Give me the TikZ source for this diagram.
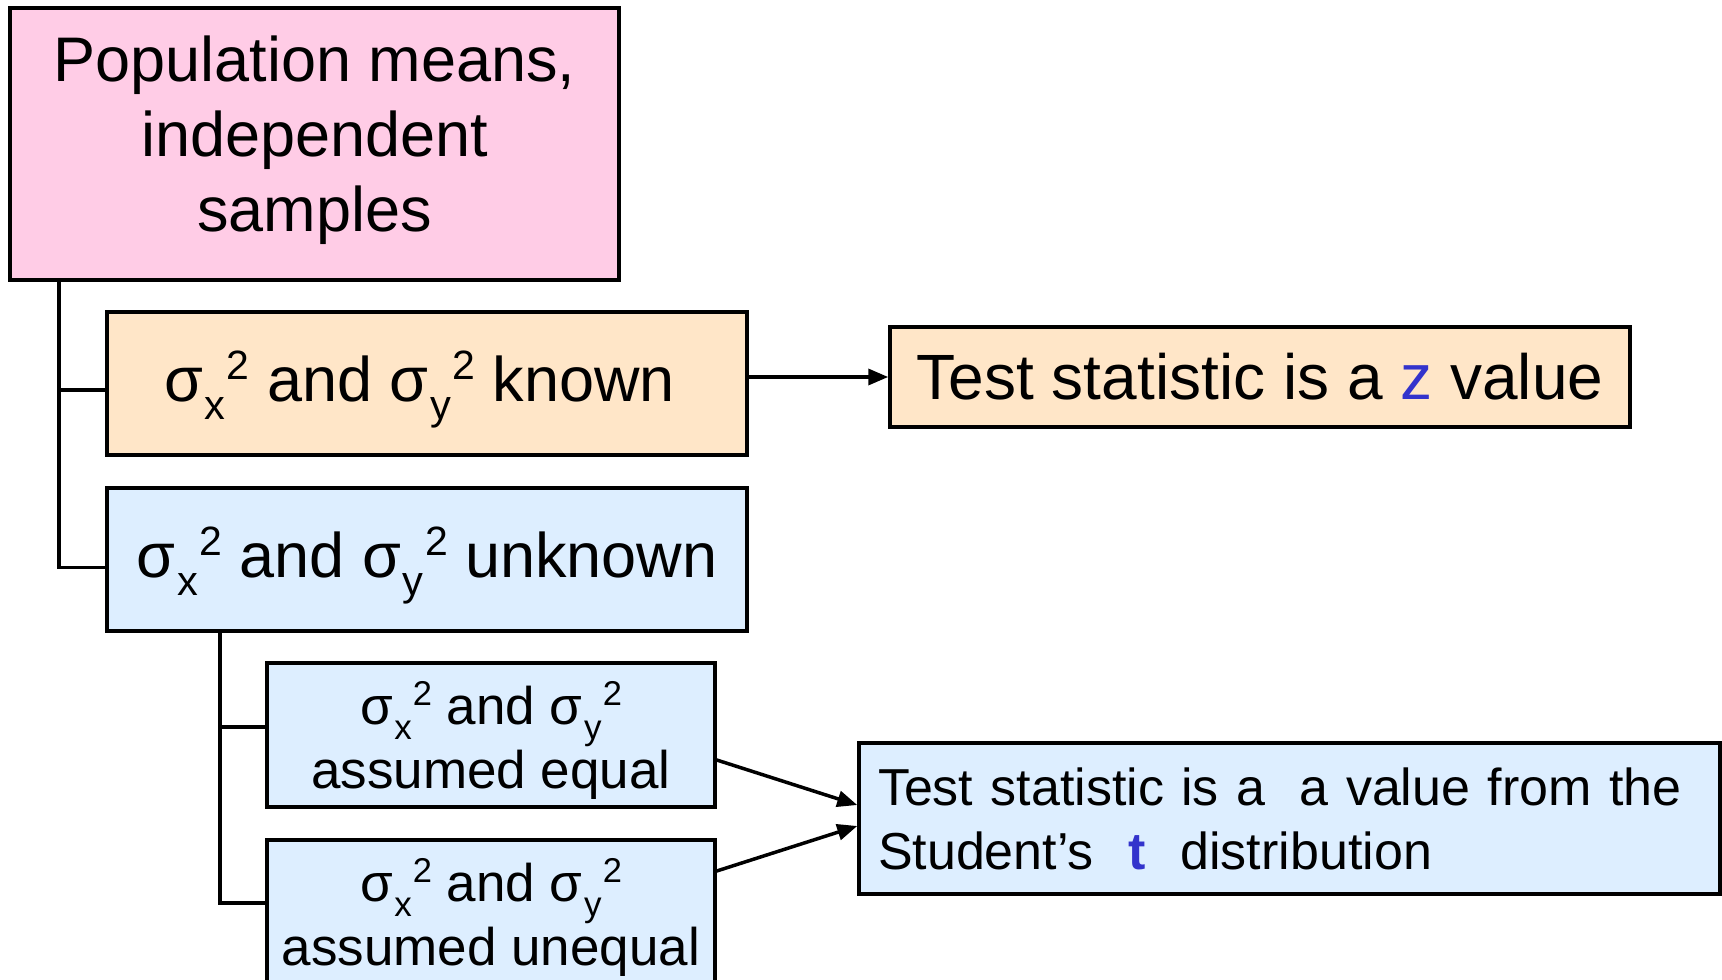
\documentclass[tikz,border=0pt]{standalone}
\usepackage{fontspec}
\setmainfont{Liberation Sans}
\usepackage{graphicx}
\usetikzlibrary{arrows.meta}
\definecolor{pinkfill}{RGB}{255,204,230}
\definecolor{peachfill}{RGB}{255,230,200}
\definecolor{bluefill}{RGB}{221,238,255}
\definecolor{hiblue}{RGB}{51,51,204}
\newcommand{\sgm}[1]{σ\kern0.03em\raisebox{-0.28em}{\scalebox{0.66}{#1}}\kern0.02em\raisebox{0.35em}{\scalebox{0.65}{2}}}
\tikzset{
  box/.style={draw=black, line width=3.5pt, inner sep=0pt, align=center},
  conn/.style={draw=black, line width=3.5pt},
  arr/.style={draw=black, line width=3.5pt, -{Triangle[length=20pt,width=16pt]}},
  bigtxt/.style={font=\fontsize{63}{75}\selectfont},
  smalltxt/.style={font=\fontsize{53}{64}\selectfont},
  tboxtxt/.style={font=\fontsize{52}{64}\selectfont},
}
\begin{document}
\begin{tikzpicture}[x=1pt,y=-1pt]
\useasboundingbox (0,0) rectangle (1722,980);
\node[box, bigtxt, fill=pinkfill, minimum width=609pt, minimum height=272pt] (pop) at (314.5,144) {Population means,\\independent\\samples\rule[-20pt]{0pt}{20pt}};
\node[box, bigtxt, fill=peachfill, minimum width=640pt, minimum height=143pt, text height=63pt, text depth=27pt] (known) at (427,383.5) {\sgm{x} and \sgm{y} known\kern15pt};
\node[box, bigtxt, fill=bluefill, minimum width=640pt, minimum height=143pt, text height=63pt, text depth=27pt] (unknown) at (427,559.5) {\sgm{x} and \sgm{y} unknown};
\node[box, font=\fontsize{64}{75}\selectfont, fill=peachfill, minimum width=740pt, minimum height=100pt] (zbox) at (1260,377) {Test statistic is a \textcolor{hiblue}{z} value};
\node[box, smalltxt, fill=bluefill, minimum width=448pt, minimum height=144pt] (equal) at (491,735) {\rule{0pt}{54pt}\sgm{x} and \sgm{y}\\assumed equal};
\node[box, smalltxt, fill=bluefill, minimum width=448pt, minimum height=144pt] (unequal) at (491,912) {\rule{0pt}{54pt}\sgm{x} and \sgm{y}\\assumed unequal};
\node[box, tboxtxt, fill=bluefill, minimum width=861pt, minimum height=151pt, align=left, text width=823pt] (tbox) at (1289.5,818.5) {Test statistic is a~ a value from the\\Student’s~ \textcolor{hiblue}{\textbf{t}}~ distribution};
\coordinate (trunk) at (59,280);
\coordinate (trunkb) at (220,631);
\draw[conn] (trunk) |- ([yshift=-8pt]unknown.west);
\draw[conn] ([yshift=-6.5pt]known.west) -- ++(-48,0);
\draw[conn] (trunkb) |- ([yshift=9pt]unequal.west);
\draw[conn] ([yshift=8pt]equal.west) -- ++(-47,0);
\draw[arr] ([yshift=6.5pt]known.east) -- (zbox.west);
\draw[arr] ([yshift=-25pt]equal.east) -- ([yshift=13.5pt]tbox.west);
\draw[arr] ([yshift=41pt]unequal.east) -- ([yshift=-7.5pt]tbox.west);
\end{tikzpicture}
\end{document}
